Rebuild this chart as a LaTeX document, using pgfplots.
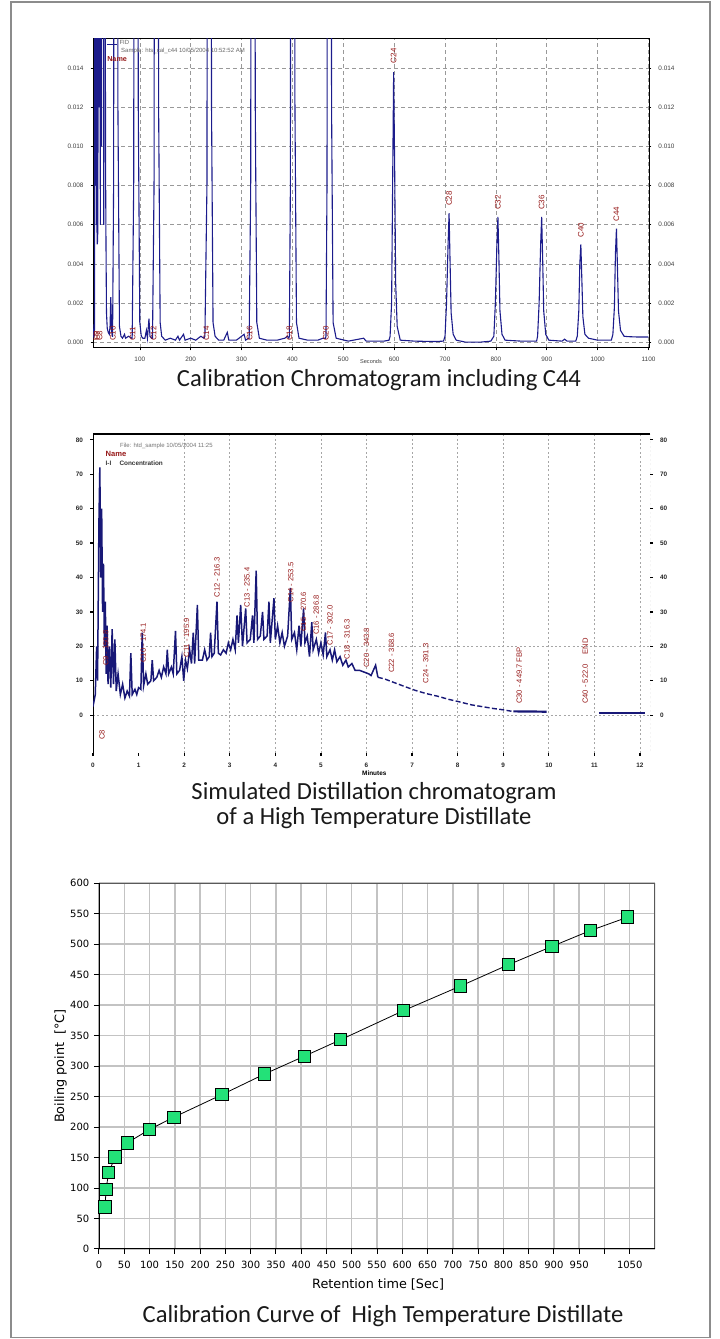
\documentclass[border=0pt]{standalone}
\usepackage{fontspec}
\setmainfont{Liberation Sans}
\newfontfamily\dejavu{DejaVu Sans}
\newfontfamily\capfont{Carlito}
\usepackage{pgfplots}
\pgfplotsset{compat=1.18}
\pgfplotsset{/pgf/number format/assume math mode=true, /pgf/number format/set thousands separator={}}
\definecolor{navy}{RGB}{28,28,140}
\definecolor{dred}{RGB}{150,25,25}
\definecolor{mgreen}{RGB}{35,225,120}
\definecolor{gridg}{RGB}{195,195,195}
\begin{document}
\begin{tikzpicture}
\useasboundingbox (0,0) rectangle (359.5pt,669.5pt);
\draw[black!45, line width=0.9pt] (5.5pt,0.8pt) rectangle (355pt,668.5pt);

% ---------------- Panel 1 ----------------
\begin{axis}[at={(46.5pt,495.5pt)}, anchor=south west, scale only axis,
  width=278pt, height=154.5pt,
  xmin=8, xmax=1101, ymin=-0.0003, ymax=0.0155,
  xtick={100,200,300,400,500,600,700,800,900,1000,1100},
  ytick={0,0.002,0.004,0.006,0.008,0.010,0.012,0.014},
  scaled y ticks=false,
  yticklabel style={/pgf/number format/fixed,/pgf/number format/fixed zerofill,/pgf/number format/precision=3},
  grid=major, major grid style={black!40, dash pattern=on 2pt off 1.5pt, line width=0.3pt},
  axis line style={black, line width=0.5pt},
  tick align=outside, major tick length=1.2pt, tick style={black, line width=0.3pt},
  xtick pos=bottom, ytick pos=left,
  ticklabel style={font=\fontsize{3.2}{3.5}\selectfont, text=black!75},
  xlabel={Seconds}, xlabel style={font=\fontsize{2.8}{3}\selectfont, text=black!75, at={(axis description cs:0.5,-0.036)}, anchor=north, inner sep=0pt},
  clip=true]
\addplot[navy, line width=0.55pt] coordinates {
(8,0.0002)(9,0.0004)(10,0.0009)(10.8,0.0003)
(11.2,0.003)(12,0.1)(12.6,0.01)(13.2,0.1)(13.8,0.008)
(14.2,0.1)(14.8,0.006)(15.3,0.1)(15.8,0.006)
(16.2,0.005)(17.2,0.0052)(18,0.012)(18.8,0.1)(19.4,0.02)(20,0.1)(20.7,0.012)(21.4,0.1)(22,0.012)
(22.5,0.006)(23.2,0.1)(23.8,0.01)(24.4,0.1)(25,0.01)(25.6,0.1)(26.3,0.02)(27,0.1)(27.7,0.02)(28.4,0.1)
(29.2,0.006)(30,0.1)(31,0.05)(31.6,0.1)(32.5,0.01)
(33.5,0.0052)(34.5,0.0015)(36,0.0007)(38,0.0005)
(40,0.0004)(41.5,0.0008)(43,0.0023)(44.5,0.0006)(46,0.0003)
(46.5,0.0003)(48.5,0.008)(49.5,0.03)(52,0.1)(55,0.05)(57,0.012)(60,0.0008)(63,0.0003)
(66,0.0002)(70,0.0004)(72,0.0002)(78,0.0003)(84,0.0002)
(85,0.0002)(88,0.008)(89,0.03)(92,0.1)(95,0.05)(97,0.012)(100,0.001)(103,0.0003)
(106,0.0002)(110,0.0002)(113,0.0006)(115,0.0002)(118,0.0012)(120,0.0003)(123,0.0002)
(125,0.0002)(128,0.008)(129,0.03)(132,0.1)(135,0.05)(137,0.012)(140,0.001)(143,0.0003)
(150,0.0001)(160,0.0002)(170,0.0001)(175,0.0003)(178,0.0001)(186,0.0004)(189,0.0001)(200,0.0002)(210,0.0001)(220,0.0003)(226,0.0002)
(228,0.0003)(232,0.008)(233,0.03)(236,0.1)(239,0.05)(241,0.012)(244,0.001)(248,0.0003)
(255,0.0001)(265,0.0001)(272,0.0005)(275,0.0001)(290,0.0001)(300,0.0003)(305,0.0004)(308,0.0001)(314,0.0002)
(315,0.0002)(318,0.008)(319,0.03)(322,0.1)(325,0.05)(327,0.012)(330,0.001)(335,0.0002)
(350,0.0001)(370,0.0001)(385,0.0002)(390,0.0003)(393,0.0002)
(394,0.0003)(396,0.008)(397,0.03)(400,0.1)(403,0.05)(405,0.012)(408,0.001)(413,0.0002)
(430,0.0001)(450,0.0001)(460,0.0002)(465,0.0002)
(466,0.0003)(468,0.008)(469,0.03)(472,0.1)(475,0.05)(477,0.012)(480,0.001)(486,0.0002)
(510,0.00005)(540,0.0002)(545,0.00005)(580,0.00005)(590,0.0001)
(592,0.0003)(595,0.002)(597,0.008)(599,0.0138)(601,0.009)(603,0.003)(606,0.0008)(612,0.0001)
(640,0.00005)(680,0.00003)(697,0.00005)
(700,0.0003)(703,0.002)(706,0.005)(708,0.0066)(710,0.004)(712,0.0015)(716,0.0004)(722,0.0001)
(740,0.0)(770,0.0)(790,0.00005)
(796,0.0003)(799,0.002)(802,0.005)(804,0.0064)(806,0.0042)(808,0.0016)(812,0.0004)(818,0.0001)
(850,0.00005)(880,0.00005)
(882,0.0003)(885,0.002)(888,0.005)(890,0.0064)(892,0.0042)(894,0.0016)(898,0.0004)(904,0.0001)
(930,0.00005)(935,0.00015)(940,0.00005)(957,0.00005)
(960,0.0003)(963,0.0016)(965,0.004)(967,0.005)(969,0.0032)(971,0.0013)(975,0.0004)(982,0.0002)
(1000,0.0001)(1027,0.0001)
(1030,0.0004)(1033,0.0018)(1035,0.0045)(1037,0.0058)(1039,0.0038)(1041,0.0016)(1045,0.0006)(1052,0.0003)
(1060,0.00028)(1080,0.00026)(1100,0.00026)
};
\begin{scope}[every node/.style={rotate=90, anchor=west, inner sep=0.4pt, text=dred, font=\fontsize{4}{4}\selectfont}]
\node at (axis cs:11,0) {C6};
\node at (axis cs:16,0) {C7};
\node at (axis cs:21,0) {C8};
\node at (axis cs:47,0) {C10};
\node at (axis cs:86,0) {C11};
\node at (axis cs:127,0) {C12};
\node at (axis cs:231,0) {C14};
\node at (axis cs:316,0) {C16};
\node at (axis cs:394,0) {C18};
\node at (axis cs:466,0) {C20};
\node at (axis cs:599,0.0142) {C24};
\node at (axis cs:708,0.0069) {C28};
\node at (axis cs:804,0.0067) {C32};
\node at (axis cs:890,0.0067) {C36};
\node at (axis cs:967,0.0053) {C40};
\node at (axis cs:1037,0.0061) {C44};
\end{scope}
\draw[navy, line width=0.5pt] (axis description cs:0.025,0.981) -- (axis description cs:0.043,0.981);
\node[anchor=west, inner sep=0pt, font=\fontsize{3}{3}\selectfont, text=black!60] at (axis description cs:0.047,0.99) {FID};
\node[anchor=west, inner sep=0pt, font=\fontsize{3}{3}\selectfont, text=black!60] at (axis description cs:0.05,0.962) {Sample: hts\_cal\_c44 10/05/2004 10:52:52 AM};
\node[anchor=west, inner sep=0pt, font=\bfseries\fontsize{3.6}{3.6}\selectfont, text=dred] at (axis description cs:0.025,0.935) {Name};
\end{axis}
\begin{axis}[at={(46.5pt,495.5pt)}, anchor=south west, scale only axis,
  width=278pt, height=154.5pt,
  xmin=8, xmax=1101, ymin=-0.0003, ymax=0.0155,
  axis x line=none, axis y line*=right, y axis line style={draw=none},
  ytick={0,0.002,0.004,0.006,0.008,0.010,0.012,0.014},
  scaled y ticks=false,
  yticklabel style={/pgf/number format/fixed,/pgf/number format/fixed zerofill,/pgf/number format/precision=3},
  tick align=outside, major tick length=1.2pt, tick style={black, line width=0.3pt},
  ticklabel style={font=\fontsize{3.2}{3.5}\selectfont, text=black!75}]
\end{axis}
\node[anchor=base, inner sep=0pt, font=\capfont\fontsize{12.3}{13}\selectfont, text=black!90] at (189.5pt,476pt) {Calibration Chromatogram including C44};

% ---------------- Panel 2 ----------------
\begin{axis}[at={(46.5pt,293pt)}, anchor=south west, scale only axis,
  width=278.5pt, height=159.5pt,
  xmin=0, xmax=12.22, ymin=-1.1, ymax=8.17,
  xtick={0,1,2,3,4,5,6,7,8,9,10,11,12},
  ytick={0,1,2,3,4,5,6,7,8},
  yticklabels={0,10,20,30,40,50,60,70,80},
  axis line style={draw=none},
  xmajorgrids=false, ymajorgrids=false,
  extra x ticks={2,3,4,5,6,7,8,9,10,11,12}, extra x tick labels={},
  extra x tick style={grid=major, major tick length=0pt},
  extra y ticks={0,2}, extra y tick labels={},
  extra y tick style={grid=major, major tick length=0pt},
  major grid style={black!35, dash pattern=on 1pt off 1.2pt, line width=0.4pt},
  tick align=outside, major tick length=1.5pt, tick style={black, line width=0.6pt},
  xtick pos=bottom, ytick pos=left,
  ticklabel style={font=\bfseries\fontsize{3.2}{3.5}\selectfont, text=black!85},
  xlabel={Minutes}, xlabel style={font=\bfseries\fontsize{3.2}{3.5}\selectfont, at={(axis description cs:0.505,-0.035)}, anchor=north},
  clip=true]
\draw[black, line width=0.6pt] (rel axis cs:0,0) -- (rel axis cs:0,1);
\draw[black, line width=1.1pt] (rel axis cs:0,1) -- (rel axis cs:1,1);
\draw[black!30, dash pattern=on 1pt off 1.2pt, line width=0.4pt] (rel axis cs:0,0) -- (rel axis cs:1,0) -- (rel axis cs:1,1);
\addplot[navy!85!black, line width=0.75pt] coordinates {
(0.00,0.25)(0.05,0.6)(0.08,2.0)(0.10,1.0)(0.13,5.6)(0.15,7.2)(0.17,4.0)(0.19,6.0)(0.21,3.0)(0.23,4.4)
(0.25,2.0)(0.27,3.3)(0.29,1.2)(0.31,2.6)(0.33,0.9)(0.36,2.0)(0.39,0.8)(0.42,2.5)(0.45,0.9)(0.48,2.2)
(0.51,0.7)(0.55,1.2)(0.60,0.6)(0.65,0.9)(0.70,0.5)(0.75,0.7)(0.80,0.55)(0.83,1.8)(0.86,0.6)(0.92,0.75)
(0.96,0.6)(1.00,0.8)(1.05,0.75)(1.08,2.4)(1.11,0.85)(1.16,1.2)(1.20,0.9)(1.27,1.0)(1.30,1.6)(1.33,1.0)
(1.40,1.1)(1.45,1.3)(1.50,1.1)(1.55,1.4)(1.60,1.2)(1.63,1.9)(1.66,1.2)(1.72,1.4)(1.76,1.2)(1.81,2.45)
(1.84,1.2)(1.90,1.3)(1.95,1.7)(1.99,1.0)(2.03,1.6)(2.07,1.35)(2.12,1.9)(2.16,1.5)(2.20,2.4)(2.23,1.5)
(2.29,3.2)(2.32,1.6)(2.40,1.6)(2.45,1.9)(2.50,1.6)(2.55,1.7)(2.58,2.4)(2.61,1.7)(2.66,1.8)(2.72,3.3)
(2.75,1.8)(2.80,1.75)(2.86,1.9)(2.92,1.8)(2.97,2.1)(3.02,1.9)(3.07,2.2)(3.12,1.9)(3.16,2.9)(3.19,2.1)
(3.24,3.2)(3.28,2.0)(3.35,3.1)(3.38,2.1)(3.45,2.2)(3.50,2.9)(3.53,2.1)(3.58,4.2)(3.61,2.2)(3.67,2.3)
(3.72,3.0)(3.75,2.2)(3.82,2.3)(3.86,3.3)(3.89,2.1)(3.97,3.4)(4.00,2.2)(4.05,2.6)(4.10,2.1)(4.15,2.4)
(4.20,2.0)(4.27,2.3)(4.33,3.7)(4.36,2.2)(4.42,2.4)(4.47,1.9)(4.52,2.6)(4.56,2.0)(4.62,3.1)(4.65,2.1)
(4.70,2.3)(4.75,1.7)(4.80,2.7)(4.83,1.9)(4.90,2.2)(4.95,1.8)(5.00,2.1)(5.05,1.75)(5.10,2.4)(5.13,1.7)
(5.20,1.9)(5.25,1.6)(5.30,1.9)(5.35,1.55)(5.42,1.7)(5.48,1.45)(5.55,1.6)(5.60,1.4)(5.68,1.5)(5.75,1.3)
(5.85,1.3)(5.95,1.25)(6.05,1.2)(6.10,1.15)(6.20,1.45)(6.25,1.1)
};
\addplot[navy!85!black, line width=0.7pt, dash pattern=on 2.5pt off 1.2pt] coordinates {
(6.25,1.1)(6.40,1.05)(6.60,0.95)(6.80,0.85)(7.07,0.72)(7.30,0.63)(7.56,0.55)(7.80,0.46)(8.06,0.38)
(8.30,0.30)(8.57,0.24)(8.80,0.19)(8.97,0.16)(9.20,0.11)
};
\addplot[navy!85!black, line width=1.1pt] coordinates {(9.22,0.11)(9.95,0.10)};
\addplot[navy!85!black, line width=1.1pt] coordinates {(11.1,0.06)(12.12,0.06)};
\begin{scope}[every node/.style={rotate=90, anchor=west, inner sep=0.3pt, text=dred, font=\fontsize{3.8}{3.8}\selectfont}]
\node at (axis cs:0.28,1.4) {C9 - 150.8};
\node at (axis cs:1.10,1.5) {C10 - 174.1};
\node at (axis cs:2.05,1.65) {C11 - 195.9};
\node at (axis cs:2.72,3.4) {C12 - 216.3};
\node at (axis cs:3.38,3.1) {C13 - 235.4};
\node at (axis cs:4.34,3.25) {C14 - 253.5};
\node at (axis cs:4.62,2.4) {C15 - 270.6};
\node at (axis cs:4.90,2.3) {C16 - 286.8};
\node at (axis cs:5.20,2.0) {C17 - 302.0};
\node at (axis cs:5.57,1.6) {C18 - 316.3};
\node at (axis cs:6.00,1.35) {C20 - 343.8};
\node at (axis cs:6.55,1.2) {C22 - 368.6};
\node at (axis cs:7.30,0.9) {C24 - 391.3};
\node at (axis cs:9.35,0.3) {C30 - 449.7 FBP};
\node at (axis cs:10.8,0.3) {C40 - 522.0 \quad END};
\node at (axis cs:0.20,-0.75) {C8};
\end{scope}
\node[anchor=west, inner sep=0pt, font=\fontsize{3}{3}\selectfont, text=black!55] at (axis description cs:0.048,0.962) {File: htd\_sample 10/05/2004 11:25};
\node[anchor=west, inner sep=0pt, font=\bfseries\fontsize{3.8}{3.8}\selectfont, text=dred] at (axis description cs:0.022,0.937) {Name};
\node[anchor=west, inner sep=0pt, font=\bfseries\fontsize{3.2}{3.2}\selectfont, text=black!80] at (axis description cs:0.022,0.909) {I-I \quad Concentration};
\end{axis}
\begin{axis}[at={(46.5pt,293pt)}, anchor=south west, scale only axis,
  width=278.5pt, height=159.5pt,
  xmin=0, xmax=12.22, ymin=-1.1, ymax=8.17,
  axis x line=none, axis y line*=right, y axis line style={draw=none},
  ytick={0,1,2,3,4,5,6,7,8},
  yticklabels={0,10,20,30,40,50,60,70,80},
  tick align=outside, major tick length=1.5pt, tick style={black, line width=0.6pt},
  ticklabel style={font=\bfseries\fontsize{3.2}{3.5}\selectfont, text=black!85}]
\end{axis}
\node[anchor=base, font=\capfont\fontsize{12.3}{13}\selectfont, text=black!90] at (187pt,269.5pt) {Simulated Distillation chromatogram};
\node[anchor=base, font=\capfont\fontsize{12.3}{13}\selectfont, text=black!90] at (187pt,257pt) {of a High Temperature Distillate};

% ---------------- Panel 3 ----------------
\begin{axis}[at={(49.5pt,45pt)}, anchor=south west, scale only axis,
  width=278pt, height=183pt,
  xmin=0, xmax=1100, ymin=0, ymax=600,
  xtick={0,50,100,150,200,250,300,350,400,450,500,550,600,650,700,750,800,850,900,950,1000,1050},
  xticklabels={0,50,100,150,200,250,300,350,400,450,500,550,600,650,700,750,800,850,900,950,,1050},
  ytick={0,50,100,150,200,250,300,350,400,450,500,550,600},
  grid=major, major grid style={draw=gridg, line width=0.7pt},
  axis line style={draw=none},
  tick align=outside, xtick pos=bottom, ytick pos=left, major tick length=2.5pt,
  tick style={black, line width=0.5pt},
  ticklabel style={font=\dejavu\fontsize{5}{6}\selectfont},
  yticklabel style={xshift=1.2pt},
  xlabel={Retention time [Sec]}, ylabel={Boiling point\ \ [°C]},
  xlabel style={font=\dejavu\fontsize{6.4}{7}\selectfont, at={(axis description cs:0.502,-0.098)}, anchor=center},
  ylabel style={font=\dejavu\fontsize{6.4}{7}\selectfont, at={(axis description cs:-0.069,0.5)}, anchor=center}]
\draw[black!65, line width=1pt] (rel axis cs:0,1) -- (rel axis cs:1,1);
\draw[black!65, line width=0.7pt] (rel axis cs:1,0) -- (rel axis cs:1,1);
\draw[black, line width=0.6pt] (rel axis cs:0,0) -- (rel axis cs:1,0);
\draw[black, line width=0.6pt] (rel axis cs:0,0) -- (rel axis cs:0,1);
\addplot[black, line width=0.4pt, mark=square*, mark size=3.1pt, mark options={fill=mgreen, draw=black, line width=0.5pt, solid}] coordinates {
(12,69)(14,98)(19,125)(32,151)(56,174)(100,196)(148,216)(243,253)(328,287)(406,316)(478,343)(603,391)(715,431)(810,466)(896,496)(972,522)(1046,544)
};
\end{axis}
\node[anchor=base, font=\capfont\fontsize{12.3}{13}\selectfont, text=black!90] at (191.5pt,8.5pt) {Calibration Curve of\ \ High Temperature Distillate};
\end{tikzpicture}
\end{document}
